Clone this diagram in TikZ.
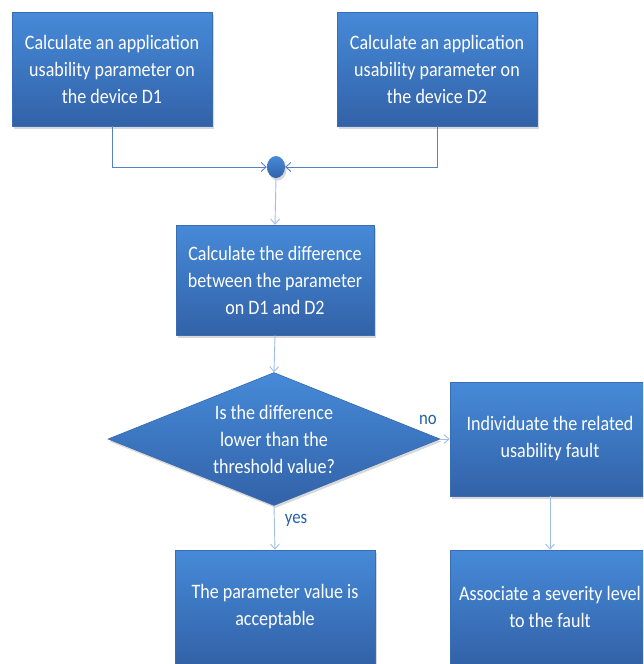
\documentclass[tikz,border=0pt]{standalone}
\usepackage{fontspec}
\setmainfont{Carlito}
\newfontfamily\boxfont[FakeStretch=0.88]{Carlito}
\usetikzlibrary{shapes.geometric,arrows.meta,shadows}

\definecolor{boxtop}{RGB}{70,138,216}
\definecolor{boxbot}{RGB}{50,98,168}
\definecolor{boxedge}{RGB}{58,108,178}
\definecolor{connlight}{RGB}{160,190,230}
\definecolor{conndark}{RGB}{85,130,195}
\definecolor{labelblue}{RGB}{36,96,172}

\tikzset{
  x=1pt, y=1pt,
  softshadow/.style={drop shadow={opacity=0.3, shadow xshift=1.5pt, shadow yshift=-2.5pt}},
  flowbox/.style={rectangle, minimum width=200pt, minimum height=114pt,
    top color=boxtop, bottom color=boxbot, draw=boxedge, line width=0.6pt,
    text=white, align=center, inner sep=2pt,
    font=\boxfont\fontsize{20.5}{27}\selectfont, softshadow},
  decision/.style={diamond, aspect=2.5, minimum width=332pt, minimum height=133pt,
    inner sep=0pt, top color=boxtop, bottom color=boxbot, draw=boxedge,
    line width=0.6pt, text=white, align=center,
    font=\boxfont\fontsize{20.5}{27}\selectfont, softshadow},
  junction/.style={ellipse, minimum width=18pt, minimum height=22pt, inner sep=0pt,
    top color=boxtop, bottom color=boxbot, draw=none, softshadow},
  conn/.style={draw=connlight, line width=0.9pt,
    -{Straight Barb[length=5pt, width=9pt, line width=0.9pt]}},
  feed/.style={conn, draw=conndark},
  edgelabel/.style={text=labelblue, font=\boxfont\fontsize{19}{22}\selectfont, inner sep=0pt}
}

\begin{document}
\begin{tikzpicture}
\useasboundingbox (0,0) rectangle (643,-664);
\clip (0,0) rectangle (643,-664);
\fill[white] (0,0) rectangle (643,-664);

% process steps
\node[flowbox] (d1) at (112,-69) {Calculate an application\\usability parameter on\\the device D1};
\node[flowbox] (d2) at (437,-69) {Calculate an application\\usability parameter on\\the device D2};
\node[junction] (j) at (276,-167) {};
\node[flowbox, minimum width=198pt, minimum height=110pt] (diff) at (275,-280)
  {Calculate the difference\\between the parameter\\on D1 and D2};
\node[decision] (test) at (274,-439) {Is the difference\\lower than the\\threshold value?};
\node[flowbox] (fault) at (550,-439) {Individuate the related\\usability fault};
\node[flowbox] (ok) at (275,-607) {The parameter value is\\acceptable};
\node[flowbox] (sev) at (550,-607) {Associate a severity level\\to the fault};

% connectors
\draw[feed] (d1.south) |- (j.west);
\draw[feed] (d2.south) |- (j.east);
\draw[conn] (j.south) -- (diff.north);
\draw[conn] (diff.south) -- (test.north);
\draw[conn] (test.east) -- (fault.west);
\draw[conn] (test.south) -- (ok.north);
\draw[conn] (fault.south) -- (sev.north);

% branch labels
\node[edgelabel] (lno) at (428,-420) {no};
\node[edgelabel] (lyes) at (296,-520) {yes};
\end{tikzpicture}
\end{document}
